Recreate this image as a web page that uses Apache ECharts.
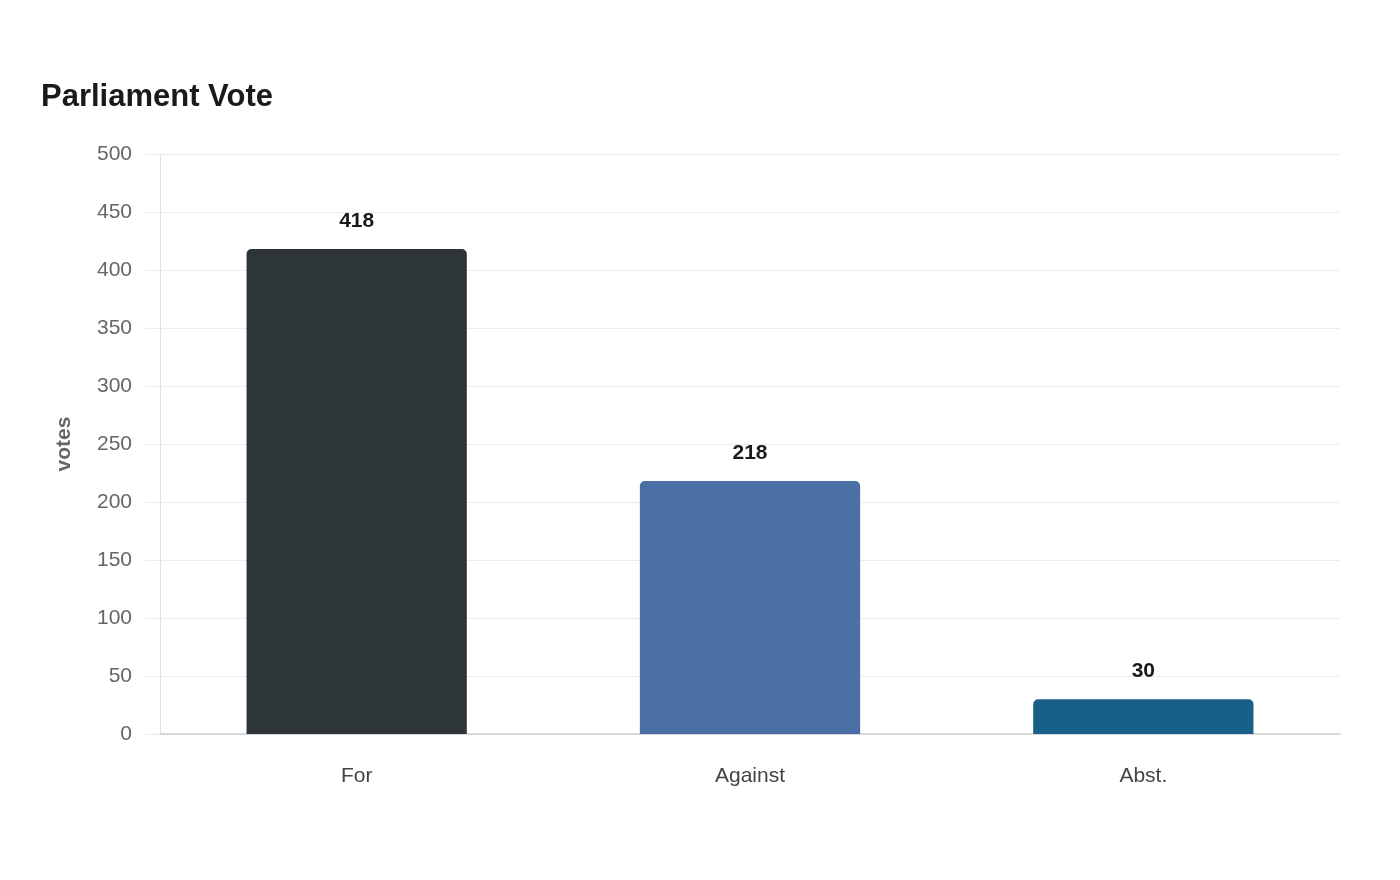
<!DOCTYPE html>
<html>
<head>
<meta charset="utf-8">
<title>Parliament Vote</title>
<script src="https://cdn.jsdelivr.net/npm/echarts@6/dist/echarts.min.js"></script>
<style>
	html, body { margin: 0; padding: 0; background: #fff; }
	#main { width: 1400px; height: 880px; }
</style>
</head>
<body>
<div id="main"></div>
<script>
	// 数据
	const categories = ['For', 'Against', 'Abst.']
	const votes = [418, 218, 30]
	const barColors = ['#2e3538', '#4a6fa5', '#186088']
	const yTicks = [0, 50, 100, 150, 200, 250, 300, 350, 400, 450, 500]

	const chart = echarts.init(document.getElementById('main'))
	const option = {
		backgroundColor: '#fff',
		textStyle: { fontFamily: 'Liberation Sans, Arial, sans-serif' },
		title: {
			text: 'Parliament Vote',
			left: 36,
			top: 77,
			textStyle: { fontSize: 31, fontWeight: 'bold', color: '#1a1a1a' }
		},
		grid: { left: 160, right: 60, top: 154, bottom: 146, containLabel: false },
		xAxis: {
			type: 'category',
			data: categories,
			axisLine: { lineStyle: { color: '#d0d0d0', width: 1.5 } },
			axisTick: { show: false },
			axisLabel: { fontSize: 21, color: '#444', margin: 32 }
		},
		yAxis: {
			type: 'value',
			min: yTicks[0],
			max: yTicks[yTicks.length - 1],
			interval: 50,
			name: 'votes',
			nameLocation: 'middle',
			nameGap: 85,
			nameTextStyle: { fontSize: 21, fontWeight: 'bold', color: '#666' },
			axisLine: { show: true, lineStyle: { color: '#e0e0e0' } },
			axisTick: { show: true, length: 15, lineStyle: { color: '#ececec' } },
			axisLabel: { fontSize: 21, color: '#666', margin: 28, padding: [4, 0, 0, 0] },
			splitLine: { lineStyle: { color: '#ececec', width: 1 } }
		},
		series: [{
			type: 'bar',
			barWidth: '56%',
			data: votes.map((v, i) => ({
				value: v,
				itemStyle: { color: barColors[i] }
			})),
			itemStyle: { borderRadius: [5, 5, 0, 0] },
			label: {
				show: true,
				position: 'top',
				distance: 17,
				fontSize: 21,
				fontWeight: 'bold',
				color: '#1a1a1a'
			}
		}]
	}
	chart.setOption(option)
</script>
</body>
</html>
